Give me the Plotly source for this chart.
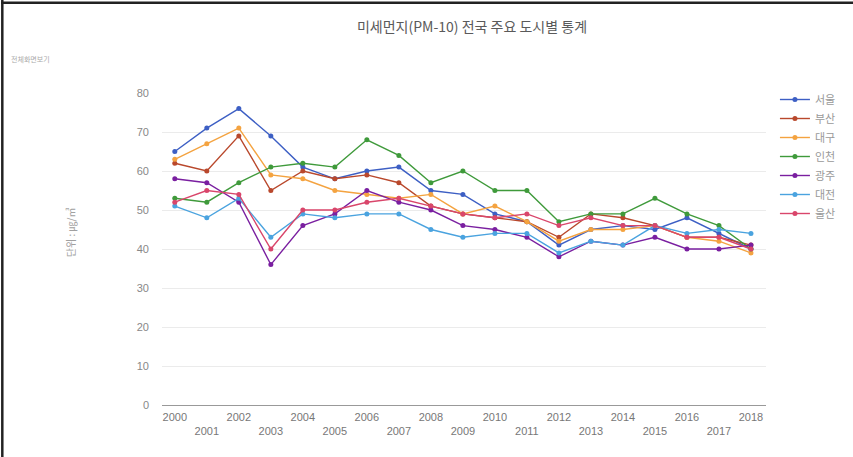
import plotly.graph_objects as go

# Annual PM-10 averages (㎍/㎥) for major cities, 2000–2018
years = list(range(2000, 2019))

seoul   = [65, 71, 76, 69, 61, 58, 60, 61, 55, 54, 49, 47, 41, 45, 46, 45, 48, 44, 40]
busan   = [62, 60, 69, 55, 60, 58, 59, 57, 51, 49, 48, 47, 43, 49, 48, 46, 43, 43, 41]
daegu   = [63, 67, 71, 59, 58, 55, 54, 53, 54, 49, 51, 47, 42, 45, 45, 46, 43, 42, 39]
incheon = [53, 52, 57, 61, 62, 61, 68, 64, 57, 60, 55, 55, 47, 49, 49, 53, 49, 46, 40]
gwangju = [58, 57, 52, 36, 46, 49, 55, 52, 50, 46, 45, 43, 38, 42, 41, 43, 40, 40, 41]
daejeon = [51, 48, 53, 43, 49, 48, 49, 49, 45, 43, 44, 44, 39, 42, 41, 46, 44, 45, 44]
ulsan   = [52, 55, 54, 40, 50, 50, 52, 53, 51, 49, 48, 49, 46, 48, 46, 46, 43, 43, 40]

city_names = ["서울", "부산", "대구", "인천", "광주", "대전", "울산"]
city_values = [seoul, busan, daegu, incheon, gwangju, daejeon, ulsan]
city_colors = ["#3d5fc4", "#b9482c", "#f4a340", "#3f9a3b", "#7a1fa0", "#4aa3df", "#d9466b"]

y_ticks = [0, 10, 20, 30, 40, 50, 60, 70, 80]
# odd years sit on a second row under the even ones
x_ticktext = [str(y) if y % 2 == 0 else "<br>" + str(y) for y in years]

W, H = 853, 457
ML, MR, MT, MB = 162, 83, 93, 52
PW, PH = W - ML - MR, H - MT - MB

fig = go.Figure()
for name, vals, col in zip(city_names, city_values, city_colors):
    fig.add_trace(go.Scatter(
        x=years, y=vals, name=name, mode="lines+markers",
        line=dict(color=col, width=1.4),
        marker=dict(color=col, size=5),
    ))

def px_x(p):
    return (p - ML) / PW

def px_y(p):
    return (H - MB - p) / PH

# outer frame of the widget (left and top edges), drawn as thin filled bars
fig.add_shape(type="rect", xref="paper", yref="paper",
              x0=px_x(0), x1=px_x(2.5), y0=px_y(H + 5), y1=px_y(0),
              line=dict(width=0), fillcolor="#222222")
fig.add_shape(type="rect", xref="paper", yref="paper",
              x0=px_x(0), x1=px_x(W + 5), y0=px_y(4), y1=px_y(1.5),
              line=dict(width=0), fillcolor="#222222")

fig.add_annotation(text="단위 : ㎍/㎥", xref="paper", yref="paper",
                   x=px_x(60), y=px_y(232), textangle=-90, showarrow=False,
                   font=dict(size=10, color="#a0a0a0", family="Noto Sans CJK KR"))

fig.add_annotation(text="전체화면보기", xref="paper", yref="paper",
                   x=px_x(8), y=px_y(52), xanchor="left", showarrow=False,
                   font=dict(size=7, color="#aaaaaa", family="Noto Sans CJK KR"))

fig.update_layout(
    width=W, height=H,
    margin=dict(l=ML, r=MR, t=MT, b=MB),
    paper_bgcolor="white", plot_bgcolor="white",
    font=dict(family="Liberation Sans, Arial", color="#777777", size=11),
    title=dict(text="미세먼지(PM-10) 전국 주요 도시별 통계",
               x=472 / W, xref="container", xanchor="center",
               y=1 - 27 / H, yref="container", yanchor="middle",
               font=dict(size=14, color="#5a5a5a", family="Noto Sans CJK KR")),
    xaxis=dict(range=[1999.6, 2018.47], tickmode="array", tickvals=years,
               ticktext=x_ticktext, showgrid=False, zeroline=False,
               showline=False, ticks="", ticklabelstandoff=4,
               tickfont=dict(size=11, color="#777777")),
    yaxis=dict(range=[0, 80], tickmode="array", tickvals=y_ticks,
               showgrid=True, gridcolor="#ebebeb", gridwidth=1,
               zeroline=True, zerolinecolor="#999999", zerolinewidth=1,
               ticks="", ticklabelstandoff=12,
               tickfont=dict(size=11, color="#888888")),
    legend=dict(x=px_x(779), y=px_y(85), xanchor="left", yanchor="top",
                font=dict(size=11, color="#999999", family="Noto Sans CJK KR"),
                bgcolor="rgba(0,0,0,0)", itemwidth=30),
    showlegend=True,
)

fig.write_html("out.html")
